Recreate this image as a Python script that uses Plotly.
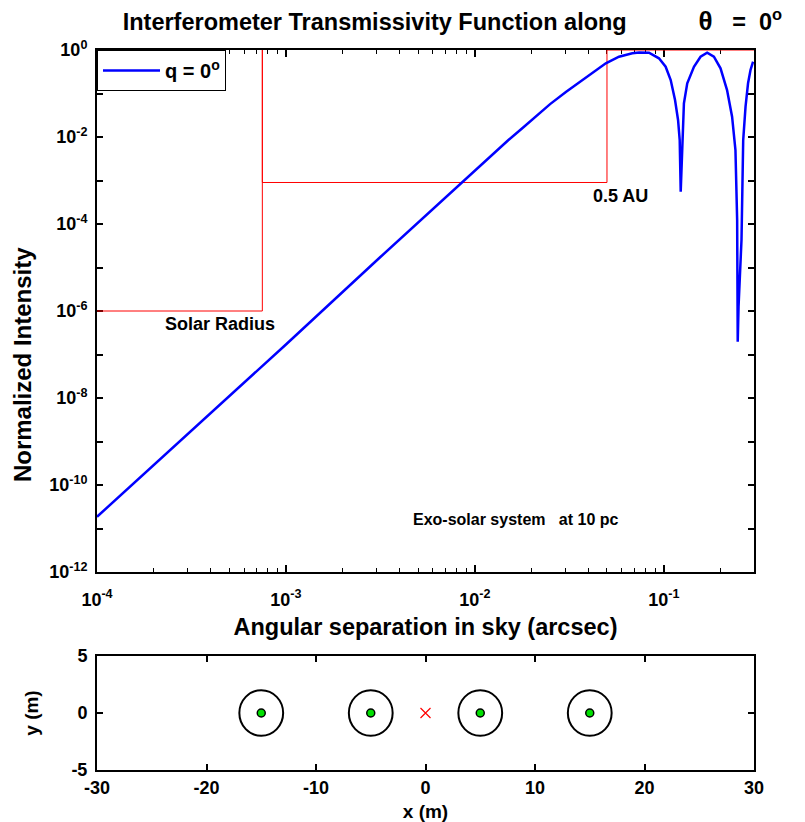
import plotly.graph_objects as go

# Transmissivity of the nulling interferometer along theta = 0 (normalized)
theta_arcsec = [1.0e-4, 1.98e-4, 2.98e-4, 6.18e-4, 1.0e-3, 3.16e-3, 6.49e-3, 8.55e-3,
                1.0e-2, 1.5e-2, 1.8e-2, 2.10e-2, 2.5e-2, 3.03e-2, 3.71e-2, 4.54e-2,
                4.93e-2, 5.79e-2, 6.81e-2, 7.40e-2, 8.34e-2, 9.42e-2, 0.1022, 0.1087,
                0.1146, 0.1189, 0.1213, 0.1228, 0.1251, 0.1277, 0.133, 0.1443, 0.1564,
                0.1695, 0.184, 0.1995, 0.216, 0.2297, 0.2393, 0.2443, 0.246, 0.2485,
                0.2576, 0.263, 0.2706, 0.279, 0.2875, 0.2966]
intensity = [1.86e-11, 2.8e-10, 1.45e-9, 2.65e-8, 1.7e-7, 1.74e-5, 2.99e-4, 8.9e-4,
             1.71e-3, 8.4e-3, 0.0165, 0.030, 0.0570, 0.108, 0.204, 0.379,
             0.494, 0.701, 0.84, 0.88, 0.87, 0.644, 0.413, 0.204,
             0.0709, 0.0246, 8.5e-3, 5.5e-4, 8.5e-3, 0.0595, 0.172, 0.413, 0.701,
             0.867, 0.701, 0.379, 0.120, 0.0293, 5.0e-3, 1.24e-4, 1.97e-7, 1.26e-6,
             4.3e-5, 8.5e-3, 0.0497, 0.172, 0.347, 0.538]

# Stellar disc and habitable-zone boundaries (system at 10 pc)
boundary_x = [1e-4, 7.5e-4, 7.5e-4, 7.5e-4, 0.05, 0.05, 0.3]
boundary_y = [1e-6, 1e-6, 1.0, 9e-4, 9e-4, 1.0, 1.0]

# Telescope layout (metres)
tel_x = [-15, -5, 5, 15]
tel_y = [0, 0, 0, 0]
aperture_radius = 2.0
beam_combiner_x = [0]
beam_combiner_y = [0]

x_decades = [-4, -3, -2, -1]
y_decades = list(range(0, -13, -1))
x_ticks_bottom = [-30, -20, -10, 0, 10, 20, 30]
y_ticks_bottom = [-5, 0, 5]

FONT = "Liberation Sans, Arial, sans-serif"
NB = "&nbsp;"


def bold(s):
    return f"<b>{s}</b>"


fig = go.Figure()

fig.add_trace(go.Scatter(
    x=boundary_x, y=boundary_y, mode="lines", line=dict(color="red", width=1),
    showlegend=False, cliponaxis=False, xaxis="x", yaxis="y"))

fig.add_trace(go.Scatter(
    x=theta_arcsec, y=intensity, mode="lines", line=dict(color="#0000ff", width=2.5),
    name=bold("q = 0<sup>o</sup>"), cliponaxis=False, xaxis="x", yaxis="y"))

fig.add_trace(go.Scatter(
    x=tel_x, y=tel_y, mode="markers",
    marker=dict(color="#00e000", size=8, line=dict(color="black", width=1.5)),
    showlegend=False, xaxis="x2", yaxis="y2"))

fig.add_trace(go.Scatter(
    x=beam_combiner_x, y=beam_combiner_y, mode="markers",
    marker=dict(symbol="x-thin", size=10, line=dict(color="red", width=1.2)),
    showlegend=False, xaxis="x2", yaxis="y2"))

shapes = []
for cx, cy in zip(tel_x, tel_y):
    shapes.append(dict(type="circle", xref="x2", yref="y2",
                       x0=cx - aperture_radius, x1=cx + aperture_radius,
                       y0=cy - aperture_radius, y1=cy + aperture_radius,
                       line=dict(color="black", width=2)))

minor_x = [m * 10.0 ** d for d in x_decades for m in range(2, 10) if m * 10.0 ** d <= 0.3]

axis_common = dict(showline=True, linecolor="black", linewidth=2, mirror="ticks",
                   ticks="inside", tickcolor="black", tickwidth=1.5, showgrid=False,
                   zeroline=False, automargin=False)

tick_font = dict(family=FONT, size=18, color="black")

fig.update_layout(
    width=805, height=822,
    margin=dict(l=97, r=51, t=50, b=52, autoexpand=False),
    paper_bgcolor="white", plot_bgcolor="white",
    showlegend=True,
    title=dict(
        text=bold("Interferometer Transmissivity Function along" + NB * 11
                  + "<span style='font-size:26px'>θ</span>" + NB * 3 + "="
                  + NB * 2 + "0<sup>o</sup>"),
        x=0.562, xref="container", xanchor="center",
        y=1 - 22 / 822, yref="container", yanchor="middle",
        font=dict(family=FONT, size=23.5, color="black")),
    legend=dict(x=0, y=1, xanchor="left", yanchor="top",
                bgcolor="white", bordercolor="black", borderwidth=1,
                font=dict(family=FONT, size=20, color="black"),
                itemwidth=57),
    xaxis=dict(**axis_common, type="log", range=[-4, -0.5229], domain=[0, 1], anchor="y",
               tickvals=[10.0 ** d for d in x_decades],
               ticktext=[bold(f"10<sup>{d}</sup>") for d in x_decades],
               tickfont=tick_font, ticklen=7, ticklabelstandoff=10, layer="below traces",
               minor=dict(tickvals=minor_x, ticks="inside", ticklen=4, tickwidth=1.2,
                          tickcolor="black", showgrid=False),
               title=dict(text=bold("Angular separation in sky (arcsec)"), standoff=10,
                          font=dict(family=FONT, size=23.5, color="black"))),
    yaxis=dict(**axis_common, type="log", range=[-12, 0], domain=[0.275, 1], anchor="x",
               tickvals=[10.0 ** d for d in y_decades],
               ticktext=[bold(f"10<sup>{d}</sup>") if d % 2 == 0 else "" for d in y_decades],
               tickfont=tick_font, ticklen=6, ticklabelstandoff=4, layer="below traces"),
    xaxis2=dict(**axis_common, range=[-30, 30], domain=[0, 1], anchor="y2",
                tickvals=x_ticks_bottom, ticktext=[bold(v) for v in x_ticks_bottom],
                tickfont=tick_font, ticklen=6,
                title=dict(text=bold("x (m)"), standoff=8,
                           font=dict(family=FONT, size=19, color="black"))),
    yaxis2=dict(**axis_common, range=[-5, 5], domain=[0, 0.1583], anchor="x2",
                tickvals=y_ticks_bottom, ticktext=[bold(v) for v in y_ticks_bottom],
                tickfont=tick_font, ticklen=6, ticklabelstandoff=4,
                title=dict(text=bold("y (m)"), standoff=28,
                           font=dict(family=FONT, size=19, color="black"))),
    shapes=shapes,
    annotations=[
        dict(text=bold("Normalized Intensity"), textangle=-90,
             x=-0.114, y=0.5625, xref="paper", yref="paper",
             xanchor="center", yanchor="middle", showarrow=False,
             font=dict(family=FONT, size=24, color="black")),
        dict(text=bold("Solar Radius"), x=-3.35, y=-6.3, xref="x", yref="y",
             showarrow=False, font=dict(family=FONT, size=18, color="black")),
        dict(text=bold("0.5 AU"), x=-1.23, y=-3.35, xref="x", yref="y",
             showarrow=False, font=dict(family=FONT, size=18, color="black")),
        dict(text=bold("Exo-solar system&nbsp;&nbsp; at 10 pc"), x=-1.784, y=-10.8,
             xref="x", yref="y", showarrow=False,
             font=dict(family=FONT, size=16, color="black")),
    ],
)

fig.write_html("out.html")
